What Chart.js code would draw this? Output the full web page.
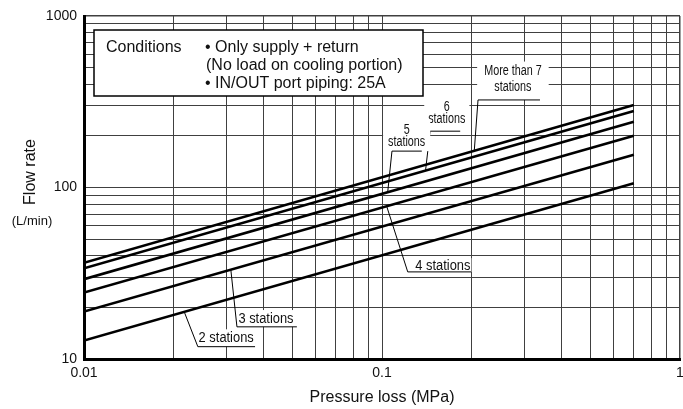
<!DOCTYPE html>
<html>
<head>
<meta charset="utf-8">
<script src="https://cdn.jsdelivr.net/npm/chart.js@4.4.1/dist/chart.umd.min.js"></script>
<style>
  html, body { margin: 0; padding: 0; background: #fff; }
</style>
</head>
<body>
<canvas id="chart" width="683" height="409"></canvas>
<script>
// pressure loss (MPa) at the two ends of every line
const pressure = [0.01, 0.7];

// flow rate (L/min) at those pressures
const flowMore7 = [36.4, 303];
const flow6 = [33.8, 279];
const flow5 = [29.2, 242];
const flow4 = [24.4, 200];
const flow3 = [18.9, 155];
const flow2 = [12.8, 106];

const seriesNames = ['More than 7 stations', '6 stations', '5 stations', '4 stations', '3 stations', '2 stations'];
const seriesFlows = [flowMore7, flow6, flow5, flow4, flow3, flow2];

const xTickLabels = ['0.01', '0.1', '1'];
const yTickLabels = ['10', '100', '1000'];

const conditionsTitle = 'Conditions';
const conditionsLines = ['• Only supply + return', '(No load on cooling portion)', '• IN/OUT port piping: 25A'];

const FONT = '"Liberation Sans", Arial, Helvetica, sans-serif';

// callouts, placed in data units (pressure, flow)
const callouts = [
    { series: 0, text: ['More than 7', 'stations'], at: [0.275, 426], gap: 16, sx: 0.77, padX: 7, padY: 5, hit: 0.204, under: [0.21, 0.339, 324] },
    { series: 1, text: ['6', 'stations'], at: [0.165, 272], gap: 12.5, sx: 0.77, padX: 4, padY: 4, hit: 0.140, under: [0.145, 0.183, 213] },
    { series: 2, text: ['5', 'stations'], at: [0.121, 199], gap: 12.5, sx: 0.77, padX: 5, padY: 5, hit: 0.1045, under: [0.108, 0.136, 163] },
    { series: 3, text: ['4 stations'], at: [0.160, 34.8], gap: 0, sx: 0.92, padX: 1, padY: 3, hit: 0.1037, under: [0.122, 0.199, 32.2] },
    { series: 4, text: ['3 stations'], at: [0.0408, 17.1], gap: 0, sx: 0.92, padX: 1, padY: 4, hit: 0.0311, under: [0.0326, 0.0518, 15.4] },
    { series: 5, text: ['2 stations'], at: [0.030, 13.2], gap: 0, sx: 0.92, padX: 1, padY: 4, hit: 0.0217, under: [0.0241, 0.0375, 11.8] },
];

function decadeGrid(lo, hi) {
    const out = [];
    for (let d = lo; d < hi; d *= 10) {
        for (let m = 1; m < 10; m++) out.push(m * d);
    }
    out.push(hi);
    return out;
}

function flowOn(seriesIdx, p) {
    const f = seriesFlows[seriesIdx];
    const t = (Math.log10(p) - Math.log10(pressure[0])) / (Math.log10(pressure[1]) - Math.log10(pressure[0]));
    return Math.pow(10, Math.log10(f[0]) + t * (Math.log10(f[1]) - Math.log10(f[0])));
}

const isDecade = v => Math.abs(Math.log10(v) - Math.round(Math.log10(v))) < 1e-6;

const annotations = {
    id: 'annotations',
    afterDatasetsDraw(chart) {
        const ctx = chart.ctx;
        const xs = chart.scales.x;
        const ys = chart.scales.y;

        // conditions box
        ctx.save();
        ctx.fillStyle = '#fff';
        ctx.fillRect(94, 30, 329, 66);
        ctx.strokeStyle = '#000';
        ctx.lineWidth = 1.5;
        ctx.strokeRect(94, 30, 329, 66);
        ctx.fillStyle = '#111';
        ctx.font = '16px ' + FONT;
        ctx.textAlign = 'left';
        ctx.textBaseline = 'alphabetic';
        ctx.fillText(conditionsTitle, 106, 52);
        ctx.fillText(conditionsLines[0], 205, 52);
        ctx.fillText(conditionsLines[1], 206, 70);
        ctx.fillText(conditionsLines[2], 205, 88);
        ctx.restore();

        // station callouts
        callouts.forEach(c => {
            const cx = xs.getPixelForValue(c.at[0]);
            const cy = ys.getPixelForValue(c.at[1]);
            const ux0 = xs.getPixelForValue(c.under[0]);
            const ux1 = xs.getPixelForValue(c.under[1]);
            const uy = ys.getPixelForValue(c.under[2]);
            const hx = xs.getPixelForValue(c.hit);
            const hy = ys.getPixelForValue(flowOn(c.series, c.hit));

            ctx.save();
            ctx.font = '14px ' + FONT;
            const w = Math.max(...c.text.map(t => ctx.measureText(t).width)) * c.sx;
            const firstY = cy - c.gap * (c.text.length - 1) / 2;
            const top = firstY - 5 - c.padY;
            ctx.fillStyle = '#fff';
            ctx.fillRect(cx - w / 2 - c.padX, top, w + 2 * c.padX, uy - top);

            ctx.fillStyle = '#111';
            ctx.textAlign = 'center';
            ctx.textBaseline = 'middle';
            c.text.forEach((t, i) => {
                ctx.save();
                ctx.translate(cx, firstY + i * c.gap);
                ctx.scale(c.sx, 1);
                ctx.fillText(t, 0, 0);
                ctx.restore();
            });

            ctx.strokeStyle = '#000';
            ctx.lineWidth = 1;
            ctx.beginPath();
            ctx.moveTo(ux1, uy);
            ctx.lineTo(ux0, uy);
            ctx.lineTo(hx, hy);
            ctx.stroke();
            ctx.restore();
        });

        // y axis title
        ctx.save();
        ctx.fillStyle = '#111';
        ctx.font = '16px ' + FONT;
        ctx.textAlign = 'center';
        ctx.textBaseline = 'middle';
        ctx.translate(31, 172);
        ctx.rotate(-Math.PI / 2);
        ctx.fillText('Flow rate', 0, 0);
        ctx.restore();
        ctx.save();
        ctx.fillStyle = '#111';
        ctx.font = '13px ' + FONT;
        ctx.textAlign = 'center';
        ctx.textBaseline = 'middle';
        ctx.fillText('(L/min)', 32, 221);
        ctx.restore();
    }
};

const xGrid = decadeGrid(0.01, 1);
const yGrid = decadeGrid(10, 1000);

const gridWidth = c => (c.tick && (c.tick.value === 1000 || c.tick.value === 1)) ? 1.5 : 1;

new Chart(document.getElementById('chart').getContext('2d'), {
    type: 'line',
    data: {
        datasets: seriesFlows.map((f, i) => ({
            label: seriesNames[i],
            data: pressure.map((p, j) => ({ x: p, y: f[j] })),
            borderColor: '#000',
            borderWidth: 2.6,
            pointRadius: 0,
            tension: 0,
        })),
    },
    options: {
        responsive: false,
        animation: false,
        devicePixelRatio: 1,
        layout: { padding: { left: 0, top: 16, right: 3, bottom: 0 } },
        plugins: {
            legend: { display: false },
            tooltip: { enabled: false },
        },
        scales: {
            x: {
                type: 'logarithmic',
                min: 0.01,
                max: 1,
                afterBuildTicks: scale => { scale.ticks = xGrid.map(v => ({ value: v })); },
                afterFit: scale => {
                    scale.height = 50;
                    scale.paddingLeft = 0;
                    scale.paddingRight = 0;
                },
                grid: { color: '#404040', lineWidth: gridWidth, drawTicks: false },
                border: { display: true, color: '#000', width: 3 },
                ticks: {
                    autoSkip: false,
                    maxRotation: 0,
                    padding: 6,
                    color: '#111',
                    font: { family: FONT, size: 14 },
                    callback: v => isDecade(v) ? xTickLabels[Math.round(Math.log10(v)) + 2] : '',
                },
                title: {
                    display: true,
                    text: 'Pressure loss (MPa)',
                    color: '#111',
                    font: { family: FONT, size: 16 },
                    padding: { top: 0, bottom: 2 },
                },
            },
            y: {
                type: 'logarithmic',
                min: 10,
                max: 1000,
                afterBuildTicks: scale => { scale.ticks = yGrid.map(v => ({ value: v })); },
                afterFit: scale => {
                    scale.width = 84;
                    scale.paddingTop = 0;
                    scale.paddingBottom = 0;
                },
                grid: { color: '#404040', lineWidth: gridWidth, drawTicks: false },
                border: { display: true, color: '#000', width: 3 },
                ticks: {
                    autoSkip: false,
                    padding: 7,
                    color: '#111',
                    font: { family: FONT, size: 14 },
                    callback: v => isDecade(v) ? yTickLabels[Math.round(Math.log10(v)) - 1] : '',
                },
            },
        },
    },
    plugins: [annotations],
});
</script>
</body>
</html>
